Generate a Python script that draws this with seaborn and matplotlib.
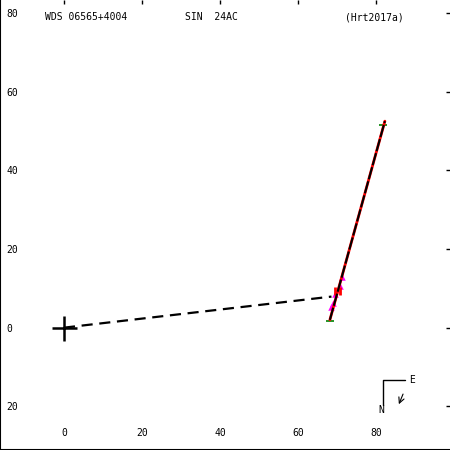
import seaborn as sns
import matplotlib.pyplot as plt

# orbit data (arcsec-ish units as on the axes)
guide_x = [0.0, 68.6]
guide_y = [0.0, 7.9]
orbit_x = [68.2, 82.3]
orbit_y = [2.0, 52.5]
obs_x = [71.2, 70.9, 69.5, 69.1, 68.6]
obs_y = [13.0, 10.7, 8.6, 6.2, 5.2]
speckle_x = [69.4, 70.9]
speckle_y = [9.4, 9.4]
end_x = [81.8, 68.2]
end_y = [51.5, 1.8]
xticks = [0, 20, 40, 60, 80]
yticks = [-20, 0, 20, 40, 60, 80]

sns.set_style("white")
plt.rcParams['font.family'] = ['DejaVu Sans Mono']
plt.rcParams['text.color'] = 'black'
plt.rcParams['xtick.color'] = 'black'
plt.rcParams['ytick.color'] = 'black'

fig = plt.figure(figsize=(4.5, 4.5), dpi=100)
ax = fig.add_axes([0, 0, 1, 1])

# dashed line from primary to companion
sns.lineplot(x=guide_x, y=guide_y, color='black', lw=1.6, ax=ax,
             linestyle=(0, (5, 3)))
# orbit arc
sns.lineplot(x=orbit_x, y=orbit_y, color='red', lw=2.0, ax=ax)
sns.lineplot(x=orbit_x, y=orbit_y, color='black', lw=1.5, ax=ax, linestyle=(0, (6, 1)))
sns.scatterplot(x=obs_x, y=obs_y, color='magenta', marker='^', s=22, linewidth=0, ax=ax)
sns.scatterplot(x=speckle_x, y=speckle_y, color='red', marker='|', s=40, linewidth=2, ax=ax)
sns.scatterplot(x=end_x, y=end_y, color='green', marker='_', s=40, linewidth=1.2, ax=ax)
ax.plot([0], [0], marker='+', color='black', ms=18, mew=1.8)

ax.set_xlim(-16.4, 99.0)
ax.set_ylim(-31.1, 83.3)
ax.set_xticks(xticks)
ax.set_yticks(yticks)
ax.set_xticklabels([str(v) for v in xticks], fontsize=7)
ax.set_yticklabels([str(abs(v)) for v in yticks], fontsize=7)
ax.tick_params(axis='both', direction='in', length=3, width=1, top=True, right=True,
               labelcolor='black')
ax.tick_params(axis='x', pad=-16)
ax.tick_params(axis='y', pad=-4.5)
for lab in ax.get_yticklabels():
    lab.set_ha('left')
for side in ['top', 'right']:
    ax.spines[side].set_visible(False)
for side in ['left', 'bottom']:
    ax.spines[side].set_color('black')
    ax.spines[side].set_linewidth(1.5)

# header
ax.text(45 / 450, 1 - 17 / 450, 'WDS 06565+4004', transform=ax.transAxes, fontsize=7,
        va='center', ha='left')
ax.text(185 / 450, 1 - 17 / 450, 'SIN  24AC', transform=ax.transAxes, fontsize=7,
        va='center', ha='left')
ax.text(345 / 450, 1 - 17 / 450, '(Hrt2017a)', transform=ax.transAxes, fontsize=7,
        va='center', ha='left')

# compass
ax.plot([0.851, 0.851, 0.9], [0.1, 0.156, 0.156], color='black', lw=1,
        transform=ax.transAxes)
ax.text(0.916, 0.156, 'E', transform=ax.transAxes, fontsize=7, va='center', ha='center')
ax.text(0.847, 0.088, 'N', transform=ax.transAxes, fontsize=7, va='center', ha='center')
ax.annotate('', xy=(0.884, 0.096), xytext=(0.898, 0.13), xycoords='axes fraction',
            arrowprops=dict(arrowstyle='->', color='black', lw=0.8))

fig.savefig('out.png', dpi=100)
